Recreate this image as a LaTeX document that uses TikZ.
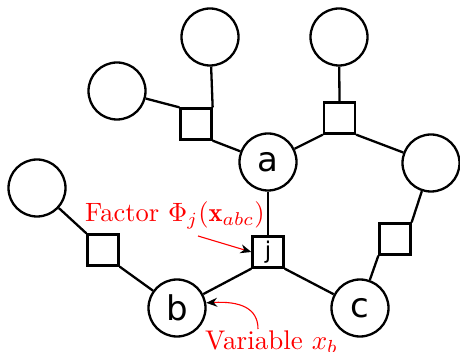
\documentclass[tikz,border=0pt]{standalone}
\usepackage{fontspec}
\usepackage{graphicx}
\setsansfont{DejaVu Sans}
\usetikzlibrary{arrows.meta}
\begin{document}
\begin{tikzpicture}[x=1pt,y=-1pt,
  var/.style={circle,draw,line width=2.3pt,minimum size=57pt,inner sep=0pt,
    font=\sffamily\fontsize{34}{34}\selectfont},
  fac/.style={rectangle,draw,line width=2.3pt,minimum size=31pt,inner sep=0pt,
    font=\sffamily\fontsize{23}{23}\selectfont},
  edge/.style={line width=2.3pt},
  lbl/.style={text=red,font=\fontsize{10}{12}\selectfont,inner sep=0pt},
  ann/.style={red,line width=1.1pt,-{Stealth[black,length=11pt,width=9pt]}}]
\useasboundingbox (0,0) rectangle (460,352);
% variable nodes
\node[var] (c1) at (210,37) {};
\node[var] (c2) at (117,91) {};
\node[var] (c3) at (339,37) {};
\node[var] (c4) at (431,163) {};
\node[var] (c5) at (37,188) {};
\node[var] (a) at (268,162) {a};
\node[var] (b) at (177,308) {b};
\node[var] (c) at (360,308) {c};
% factor nodes
\node[fac] (f1) at (196,124) {};
\node[fac] (f2) at (339.5,118) {};
\node[fac] (f3) at (103,250) {};
\node[fac] (j) at (268,252) {j};
\node[fac] (f5) at (395,239) {};
% edges
\draw[edge] (c2) -- (f1.north west);
\draw[edge] (c1) -- (f1.north east);
\draw[edge] (f1.south east) -- (a);
\draw[edge] (a) -- (f2.south west);
\draw[edge] (c3) -- (f2.north);
\draw[edge] (f2.south east) -- (c4);
\draw[edge] (c4) -- (f5.north east);
\draw[edge] (f5.south west) -- (c);
\draw[edge] (a) -- (j);
\draw[edge] (j.south west) -- (b);
\draw[edge] (j.south east) -- (c);
\draw[edge] (c5) -- (f3.north west);
\draw[edge] (f3.south east) -- (b);
% labels
\node[lbl,anchor=base west] (flab) at (85,222) {\scalebox{2.65}{Factor $\Phi_j(\mathbf{x}_{abc})$}};
\node[lbl,anchor=base west] (vlab) at (205,349) {\scalebox{2.7}{Variable $x_b$}};
\coordinate (fs) at (198,236);
\coordinate (vs) at (258,329);
\draw[ann] (fs) -- (j.west);
\draw[ann] (vs) .. controls (258,308) and (240,301) .. (b.10);
\end{tikzpicture}
\end{document}
